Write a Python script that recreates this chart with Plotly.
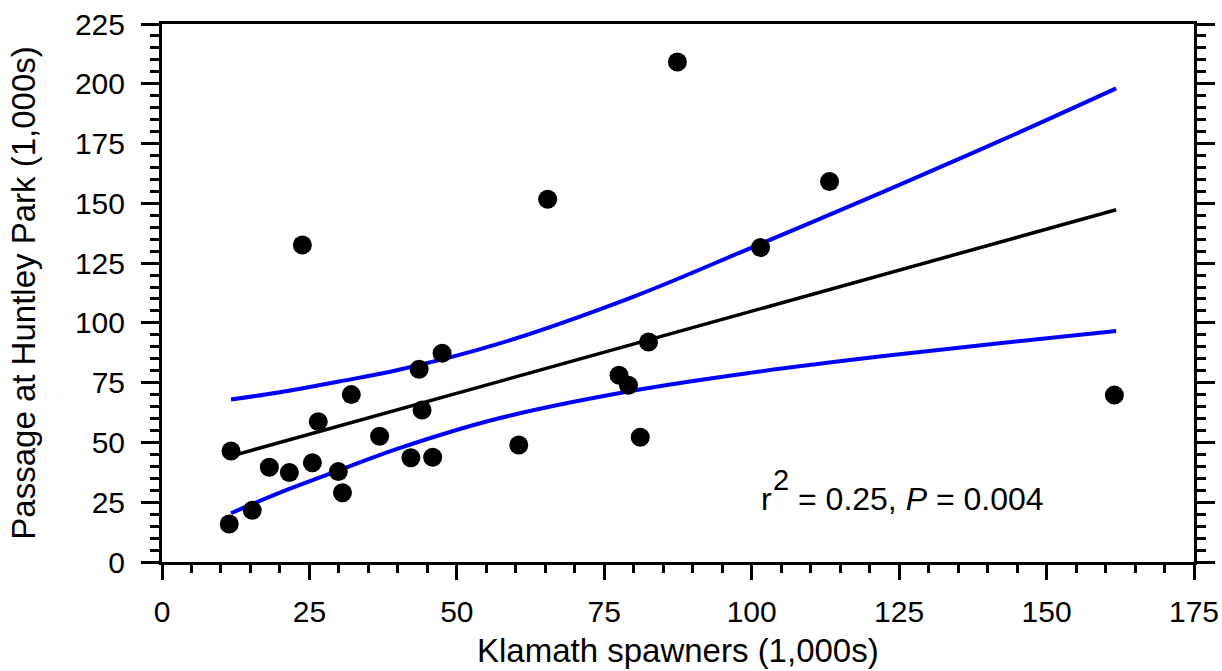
import plotly.graph_objects as go

# Observed data (1,000s)
spawners = [11.4, 15.3, 11.7, 18.2, 21.6, 25.5, 29.9, 30.6, 26.5, 32.1, 36.9, 42.2,
            45.9, 44.1, 43.6, 47.5, 60.5, 65.4, 77.5, 79.1, 81.1, 82.5, 87.4, 101.5,
            113.2, 161.5, 23.8]
passage = [15.9, 21.6, 46.4, 39.6, 37.4, 41.5, 37.8, 29.0, 58.7, 70.0, 52.6, 43.6,
           43.8, 63.6, 80.6, 87.3, 48.9, 151.7, 78.1, 73.9, 52.2, 92.0, 209.1, 131.5,
           159.1, 69.8, 132.6]

# Regression line
fit_x = [11.7, 161.8]
fit_y = [44.3, 147.3]

# Confidence band
ci_x = [11.7, 20, 30, 40, 57, 80, 100, 122, 142, 161.8]
ci_upper = [68.0, 71.0, 75.5, 80.3, 91.2, 111.0, 131.5, 154.5, 176.0, 198.1]
ci_lower = [20.4, 29.0, 38.3, 47.4, 60.0, 71.7, 79.2, 86.0, 91.5, 96.6]

x_ticks = [0, 25, 50, 75, 100, 125, 150, 175]
y_ticks = [0, 25, 50, 75, 100, 125, 150, 175, 200, 225]

FONT = "Liberation Sans, Arial, Helvetica, sans-serif"

fig = go.Figure()
fig.add_trace(go.Scatter(x=ci_x, y=ci_upper, mode="lines", line=dict(color="#0000FF", width=4, shape="spline"),
                         hoverinfo="skip", showlegend=False))
fig.add_trace(go.Scatter(x=ci_x, y=ci_lower, mode="lines", line=dict(color="#0000FF", width=4, shape="spline"),
                         hoverinfo="skip", showlegend=False))
fig.add_trace(go.Scatter(x=fit_x, y=fit_y, mode="lines", line=dict(color="black", width=3.5),
                         hoverinfo="skip", showlegend=False))
fig.add_trace(go.Scatter(x=spawners, y=passage, mode="markers",
                         marker=dict(color="black", size=19, line=dict(width=0)),
                         showlegend=False))

axis_common = dict(
    showgrid=False, zeroline=False, showline=True, linecolor="black", linewidth=3,
    ticks="outside", tickwidth=3, tickcolor="black", automargin=False,
    tickfont=dict(family=FONT, size=30, color="black"),
)

fig.update_xaxes(range=[0, 175], tickvals=x_ticks, ticktext=[str(v) for v in x_ticks],
                 ticklen=15, mirror=True, ticklabelstandoff=6,
                 minor=dict(dtick=5, tick0=0, ticks="outside", ticklen=8, tickwidth=2.5,
                            tickcolor="black", showgrid=False),
                 **axis_common)
fig.update_yaxes(range=[0, 225], tickvals=y_ticks, ticktext=[str(v) for v in y_ticks],
                 ticklen=18, mirror="ticks", ticklabelstandoff=10,
                 minor=dict(dtick=5, tick0=0, ticks="outside", ticklen=9, tickwidth=2.5,
                            tickcolor="black", showgrid=False),
                 **axis_common)

annos = [
    dict(text="Klamath spawners (1,000s)", xref="paper", yref="paper", x=0.5, y=-0.165,
         xanchor="center", yanchor="middle", showarrow=False,
         font=dict(family=FONT, size=33, color="black")),
    dict(text="Passage at Huntley Park (1,000s)", xref="paper", yref="paper", x=-0.135, y=0.5,
         xanchor="center", yanchor="middle", textangle=-90, showarrow=False,
         font=dict(family=FONT, size=33, color="black")),
    dict(text="r", xref="x", yref="y", x=101.2, y=26.3, xanchor="left", yanchor="middle",
         showarrow=False, font=dict(family=FONT, size=32, color="black")),
    dict(text="2", xref="x", yref="y", x=103.3, y=34.5, xanchor="left", yanchor="middle",
         showarrow=False, font=dict(family=FONT, size=29, color="black")),
    dict(text="= 0.25, <i>P</i> = 0.004", xref="x", yref="y", x=107.5, y=26.3,
         xanchor="left", yanchor="middle", showarrow=False,
         font=dict(family=FONT, size=32, color="black")),
]

fig.update_layout(
    width=1222, height=671,
    margin=dict(l=162, r=28, t=24, b=109, autoexpand=False),
    paper_bgcolor="white", plot_bgcolor="white",
    annotations=annos,
    font=dict(family=FONT, color="black"),
)

fig.write_html("out.html", config={"displayModeBar": False},
               post_script="document.body.style.margin='0';document.body.style.padding='0';")
